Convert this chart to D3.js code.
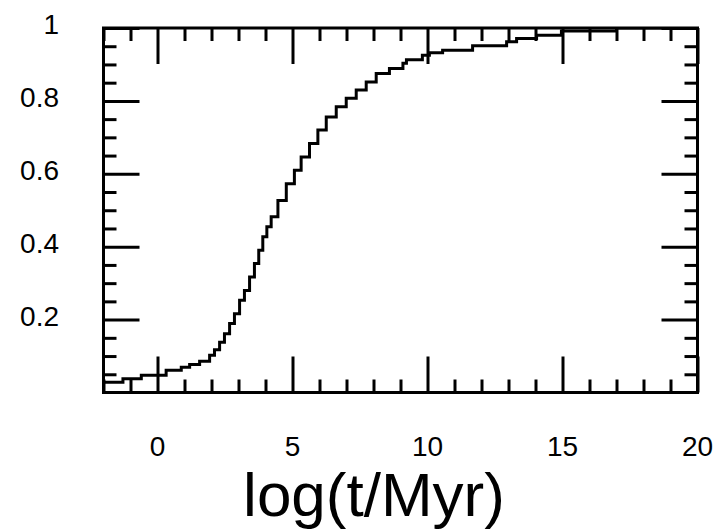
<!DOCTYPE html>
<html>
<head>
<meta charset="utf-8">
<script src="https://cdn.jsdelivr.net/npm/d3@7"></script>
<style>
  body { margin: 0; background: #fff; }
</style>
</head>
<body>
<script>
const width = 715;
const height = 530;

// cumulative fraction vs log(t/Myr)
const logT = [-1.96, -1.28, -0.6, 0.32, 0.88, 1.19, 1.56, 1.93, 2.11, 2.3, 2.48, 2.67, 2.85, 3.04,
    3.22, 3.41, 3.59, 3.75, 3.9, 4.05, 4.21, 4.46, 4.77, 5.07, 5.32, 5.63, 5.94, 6.25, 6.62, 6.99,
    7.36, 7.73, 8.1, 8.59, 9.09, 9.22, 9.81, 10.07, 10.56, 11.67, 12.93, 13.3, 14.04, 14.96, 17.0, 20];
const cumFrac = [0.028, 0.038, 0.047, 0.061, 0.069, 0.077, 0.086, 0.102, 0.117, 0.138, 0.161, 0.189, 0.216, 0.253,
    0.28, 0.317, 0.354, 0.39, 0.427, 0.455, 0.482, 0.527, 0.573, 0.61, 0.646, 0.683, 0.72, 0.756, 0.784, 0.807,
    0.83, 0.852, 0.875, 0.889, 0.903, 0.913, 0.925, 0.932, 0.939, 0.951, 0.962, 0.971, 0.98, 0.992, 1.0, 1.0];

const xMajorTicks = [0, 5, 10, 15, 20];
const xTickLabels = ["0", "5", "10", "15", "20"];
const yMajorTicks = [0.2, 0.4, 0.6, 0.8, 1];
const yTickLabels = ["0.2", "0.4", "0.6", "0.8", "1"];
const xTitle = "log(t/Myr)";

const box = {left: 103.5, right: 697.5, top: 28, bottom: 392.5};
const majorLen = 36;
const minorLen = 13;
const lineW = 3;

const x = d3.scaleLinear().domain([-2, 20]).range([box.left, box.right]);
const y = d3.scaleLinear().domain([0, 1]).range([box.bottom, box.top]);

const xMinorTicks = d3.range(-2, 20, 1).filter(v => v % 5 !== 0);
const yMinorTicks = d3.range(0.05, 1, 0.05).filter(v => Math.abs(v * 5 - Math.round(v * 5)) > 1e-6);

const svg = d3.select("body").append("svg")
    .attr("width", width)
    .attr("height", height)
    .style("display", "block");

const data = logT.map((t, i) => ({t: t, f: cumFrac[i]}));

// curve (clipped to the frame)
svg.append("clipPath").attr("id", "frame")
  .append("rect")
    .attr("x", box.left).attr("y", box.top)
    .attr("width", box.right - box.left).attr("height", box.bottom - box.top);

svg.append("path")
    .datum(data)
    .attr("clip-path", "url(#frame)")
    .attr("fill", "none")
    .attr("stroke", "#000")
    .attr("stroke-width", lineW)
    .attr("d", d3.line().x(d => x(d.t)).y(d => y(d.f)).curve(d3.curveStepAfter));

// ticks on all four sides, pointing inward
function tickAxis(axisFn, scale, values, len, tx, ty) {
    const g = svg.append("g")
        .attr("transform", `translate(${tx},${ty})`)
        .call(axisFn(scale).tickValues(values).tickSize(-len).tickFormat(""));
    g.select(".domain").remove();
    g.selectAll("line").attr("stroke-width", lineW);
    return g;
}
tickAxis(d3.axisBottom, x, xMajorTicks, majorLen, 0, box.bottom);
tickAxis(d3.axisBottom, x, xMinorTicks, minorLen, 0, box.bottom);
tickAxis(d3.axisTop, x, xMajorTicks, majorLen, 0, box.top);
tickAxis(d3.axisTop, x, xMinorTicks, minorLen, 0, box.top);
tickAxis(d3.axisLeft, y, yMajorTicks, majorLen, box.left, 0);
tickAxis(d3.axisLeft, y, yMinorTicks, minorLen, box.left, 0);
tickAxis(d3.axisRight, y, yMajorTicks, majorLen, box.right, 0);
tickAxis(d3.axisRight, y, yMinorTicks, minorLen, box.right, 0);

// frame
svg.append("rect")
    .attr("x", box.left).attr("y", box.top)
    .attr("width", box.right - box.left).attr("height", box.bottom - box.top)
    .attr("fill", "none")
    .attr("stroke", "#000")
    .attr("stroke-width", lineW);

// tick labels
svg.append("g").selectAll("text")
    .data(xMajorTicks)
    .join("text")
    .attr("x", d => x(d))
    .attr("y", 456)
    .attr("text-anchor", "middle")
    .style("font-family", "'Liberation Sans', Arial, sans-serif")
    .style("font-size", "28px")
    .text((d, i) => xTickLabels[i]);

svg.append("g").selectAll("text")
    .data(yMajorTicks)
    .join("text")
    .attr("x", 59)
    .attr("y", d => y(d) + 6)
    .attr("text-anchor", "end")
    .style("font-family", "'Liberation Sans', Arial, sans-serif")
    .style("font-size", "28px")
    .text((d, i) => yTickLabels[i]);

// axis title
svg.append("text")
    .attr("x", 374)
    .attr("y", 516)
    .attr("text-anchor", "middle")
    .style("font-family", "'Liberation Sans', Arial, sans-serif")
    .style("font-size", "62px")
    .text(xTitle);

// descender of a title from the panel above, cut by the top edge
svg.append("text")
    .attr("x", 138)
    .attr("y", -14)
    .attr("text-anchor", "middle")
    .style("font-family", "'Liberation Sans', Arial, sans-serif")
    .style("font-size", "62px")
    .text("g");
</script>
</body>
</html>
